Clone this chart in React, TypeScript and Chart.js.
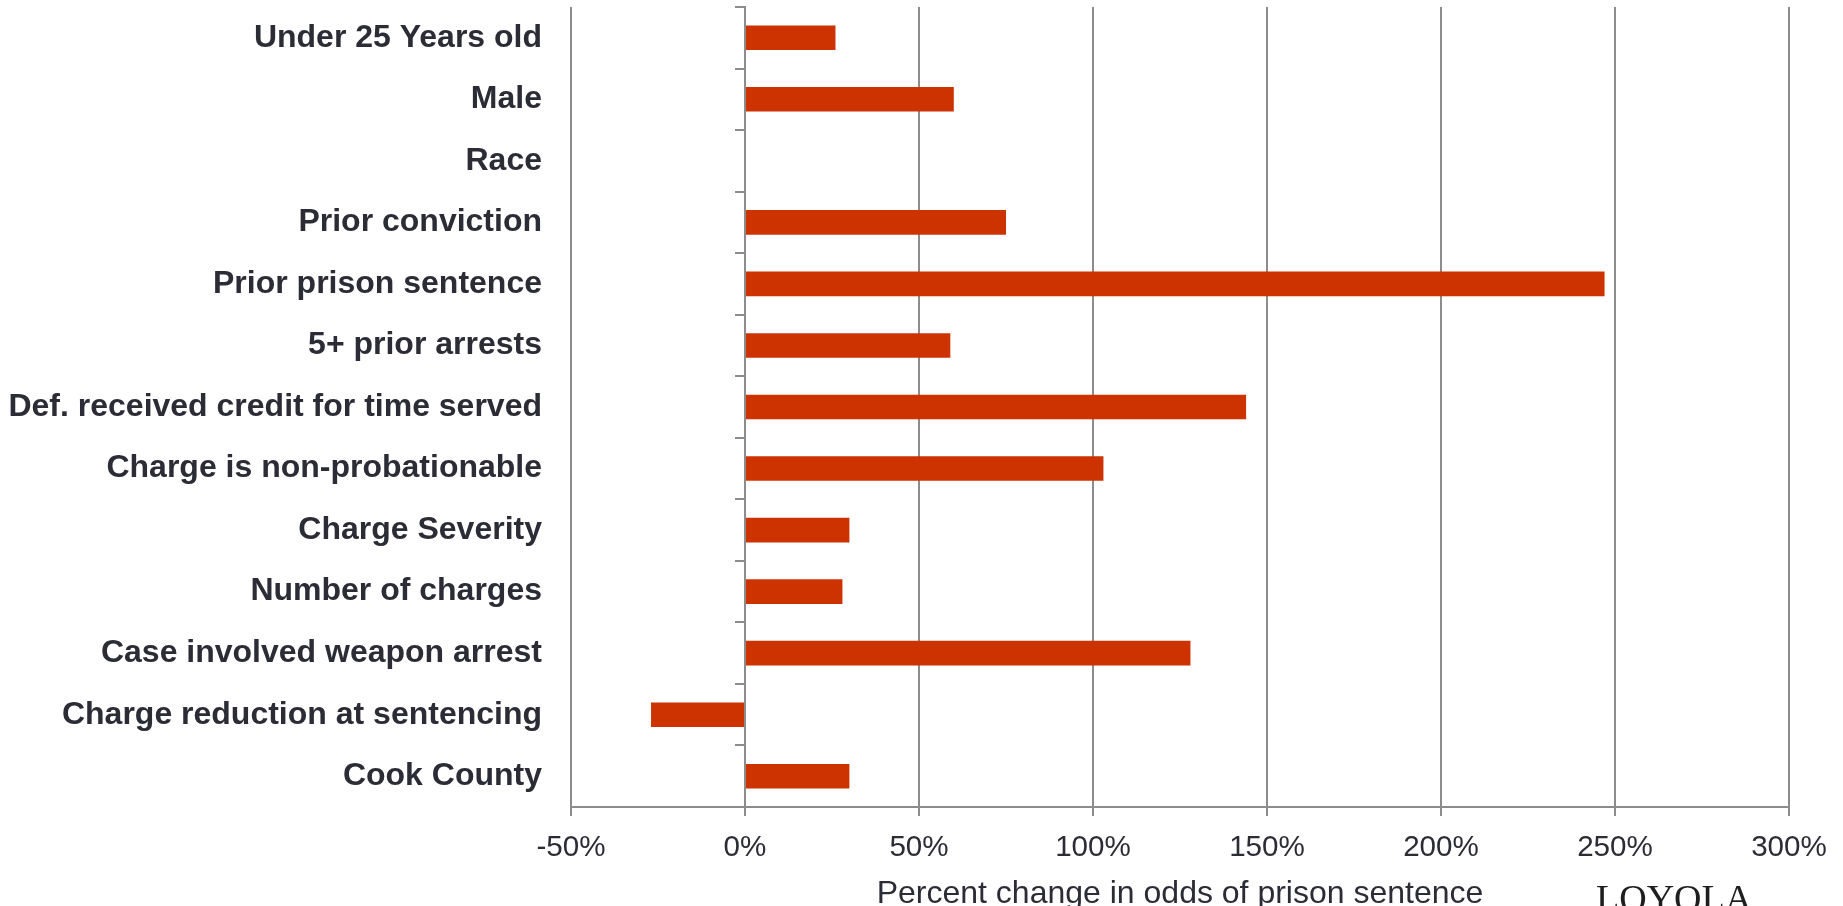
import React, { useEffect, useRef } from 'react';
import { Chart, registerables } from 'chart.js';

Chart.register(...registerables);

const categories = [
  'Under 25 Years old',
  'Male',
  'Race',
  'Prior conviction',
  'Prior prison sentence',
  '5+ prior arrests',
  'Def. received credit for time served',
  'Charge is non-probationable',
  'Charge Severity',
  'Number of charges',
  'Case involved weapon arrest',
  'Charge reduction at sentencing',
  'Cook County',
];
const values = [26, 60, 0, 75, 247, 59, 144, 103, 30, 28, 128, -27, 30];
const xMin = -50;
const xMax = 300;
const xStep = 50;
const axisTitle = 'Percent change in odds of prison sentence';
const logoText = 'LOYOLA';

const GRID = '#8c8c8c';
const TEXT = '#2c2c37';
const BAR = '#cc3300';
const SANS = '"Liberation Sans", Arial, sans-serif';

export default function App() {
  const ref = useRef<HTMLCanvasElement>(null);
  useEffect(() => {
    const overlay = {
      id: 'overlay',
      afterDraw(chart: any) {
        const ctx = chart.ctx;
        const a = chart.chartArea;
        ctx.save();
        ctx.fillStyle = TEXT;
        ctx.font = '32px ' + SANS;
        ctx.textAlign = 'center';
        ctx.textBaseline = 'alphabetic';
        ctx.fillText(axisTitle, (a.left + a.right) / 2, a.bottom + 96);
        ctx.font = '38px "Liberation Serif", "Times New Roman", serif';
        ctx.textAlign = 'left';
        ctx.fillStyle = '#1e1e1e';
        ctx.fillText(logoText, a.right - 193, a.bottom + 104);
        ctx.restore();
      },
    };
    const chart = new Chart(ref.current as HTMLCanvasElement, {
      type: 'bar',
      data: {
        labels: categories,
        datasets: [
          {
            data: values,
            backgroundColor: BAR,
            borderWidth: 0,
            barPercentage: 0.4,
            categoryPercentage: 1,
          },
        ],
      },
      options: {
        indexAxis: 'y',
        animation: false,
        responsive: false,
        maintainAspectRatio: false,
        layout: { padding: { top: 7, right: 54, left: 0, bottom: 0 } },
        plugins: { legend: { display: false }, tooltip: { enabled: false } },
        scales: {
          x: {
            type: 'linear',
            min: xMin,
            max: xMax,
            ticks: {
              stepSize: xStep,
              callback: (v: any) => v + '%',
              color: TEXT,
              font: { family: SANS, size: 29.6 },
              padding: 14,
            },
            grid: { color: GRID, lineWidth: 2, tickLength: 9, drawTicks: true },
            border: { color: GRID, width: 2 },
            afterFit: (s: any) => {
              s.height = 99;
              s.paddingLeft = 0;
              s.paddingRight = 0;
            },
          },
          y: {
            ticks: {
              color: TEXT,
              font: { family: SANS, size: 32, weight: 'bold' },
              padding: 29,
            },
            grid: { display: false, drawTicks: false },
            border: { display: false },
            afterFit: (s: any) => {
              s.width = 571;
              s.paddingTop = 0;
              s.paddingBottom = 0;
            },
          },
          y2: {
            axis: 'y',
            type: 'category',
            position: { x: 0 },
            offset: true,
            ticks: { display: false },
            grid: { offset: true, drawOnChartArea: false, color: GRID, lineWidth: 2, tickLength: 9 },
            border: { color: GRID, width: 2 },
            afterFit: (s: any) => {
              s.paddingTop = 0;
              s.paddingBottom = 0;
            },
          },
        },
      } as any,
      plugins: [overlay],
    });
    return () => chart.destroy();
  }, []);
  return (
    <div style={{ position: 'fixed', left: 0, top: 0, width: 1843, height: 906, background: '#fff' }}>
      <canvas ref={ref} width={1843} height={906} style={{ width: 1843, height: 906, display: 'block' }} />
    </div>
  );
}
